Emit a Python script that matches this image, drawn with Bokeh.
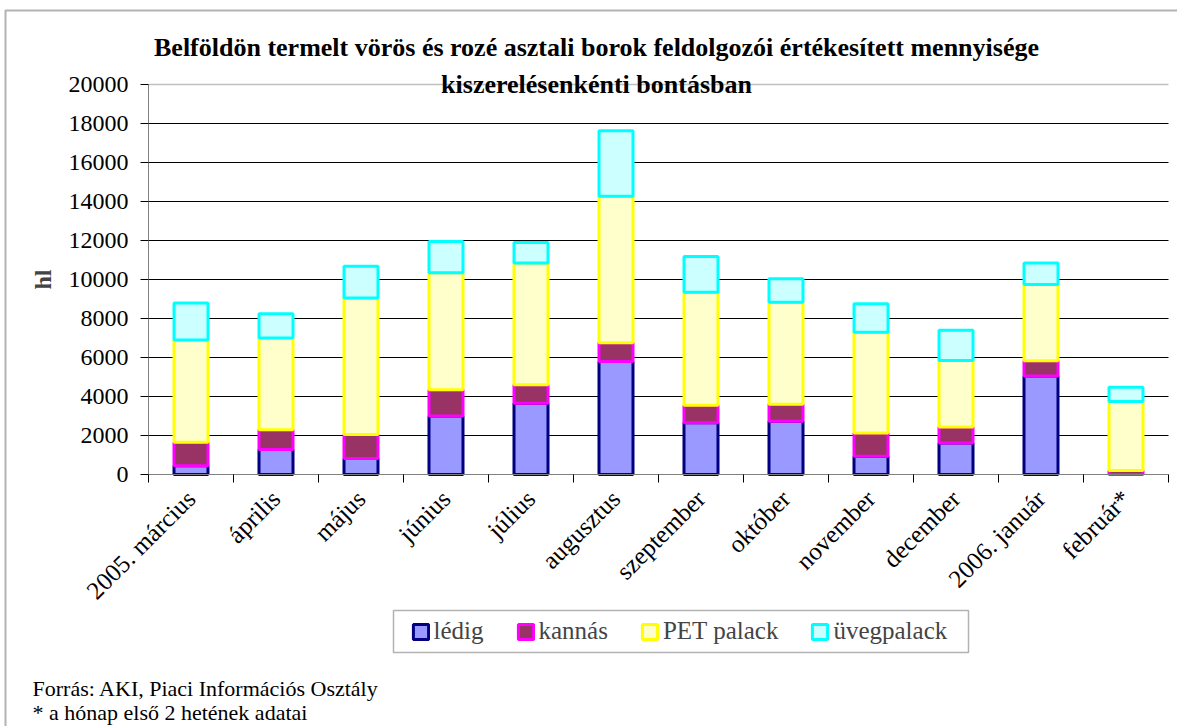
import math
from bokeh.plotting import figure
from bokeh.models import (Range1d, FixedTicker, Legend, LegendItem, Label, LinearAxis,
                          ColumnDataSource, Grid, BoxAnnotation)
from bokeh.embed import file_html
from bokeh.resources import INLINE

# ---------------- data ----------------
months = ["2005. március", "április", "május", "június", "július", "augusztus",
          "szeptember", "október", "november", "december", "2006. január", "február*"]
ledig = [450, 1280, 820, 3000, 3650, 5800, 2650, 2730, 940, 1620, 5050, 0]
kannas = [1200, 1020, 1230, 1350, 950, 960, 900, 870, 1190, 820, 780, 200]
pet_palack = [5250, 4700, 7000, 6000, 6250, 7510, 5800, 5230, 5160, 3410, 3910, 3540]
uvegpalack = [1900, 1250, 1630, 1600, 1050, 3360, 1830, 1210, 1470, 1550, 1110, 730]
series_names = ["lédig", "kannás", "PET palack", "üvegpalack"]
y_ticks = [0, 2000, 4000, 6000, 8000, 10000, 12000, 14000, 16000, 18000, 20000]
y_label = "hl"
title_lines = ["Belföldön termelt vörös és rozé asztali borok feldolgozói értékesített mennyisége",
               "kiszerelésenkénti bontásban"]
footnotes = ["Forrás: AKI, Piaci Információs Osztály",
             "* a hónap első 2 hetének adatai"]

# ---------------- styles / layout ----------------
fills = ["#9999FF", "#993366", "#FFFFCC", "#CCFFFF"]
lines = ["#000080", "#FF00FF", "#FFFF00", "#00FFFF"]
FONT = "Liberation Serif, Times New Roman, serif"

W, H = 1177, 726
PL, PR, PT, PB = 148, 1168, 84, 474     # plot area in page px
YMAX = 20000
N = len(months)


def xd(px):   # page px -> data x
    return (px - PL) * N / (PR - PL)


def yd(px):   # page px -> data y
    return (PB - px) * YMAX / (PB - PT)


src = ColumnDataSource(dict(
    x=[i + 0.5 for i in range(N)],
    ledig=ledig, kannas=kannas, pet=pet_palack, uveg=uvegpalack,
))

p = figure(width=W, height=H, x_range=Range1d(xd(0), xd(W)), y_range=Range1d(yd(H), yd(0)),
           output_backend="svg", toolbar_location=None,
           x_axis_location=None, y_axis_location=None, min_border=0)
p.outline_line_color = None
p.background_fill_color = "white"
p.border_fill_color = "white"
p.xgrid.visible = False
p.ygrid.visible = False

# gridlines (only across the plot area)
grid_ticks = y_ticks[1:-1]
if "cross_bounds" in Grid.properties():
    g = Grid(dimension=1, ticker=FixedTicker(ticks=grid_ticks), grid_line_color="black",
             grid_line_width=1)
    g.cross_bounds = (0, N)
    p.add_layout(g)
    g2 = Grid(dimension=1, ticker=FixedTicker(ticks=[y_ticks[-1]]), grid_line_color="#C0C0C0",
              grid_line_width=1.5)
    g2.cross_bounds = (0, N)
    p.add_layout(g2)
else:
    p.segment(x0=0, x1=N, y0=grid_ticks, y1=grid_ticks, line_color="black", line_width=1)
    p.segment(x0=0, x1=N, y0=y_ticks[-1], y1=y_ticks[-1], line_color="#C0C0C0", line_width=1.5)

rs = p.vbar_stack(["ledig", "kannas", "pet", "uveg"], x="x", width=0.4, source=src,
                  fill_color=fills, line_color=lines, line_width=3)

# y axis
yax = LinearAxis(fixed_location=0, bounds=(0, YMAX), ticker=FixedTicker(ticks=y_ticks))
yax.major_label_overrides = {t: str(t) for t in y_ticks}
yax.major_label_text_font = FONT
yax.major_label_text_font_size = "24px"
yax.major_label_text_color = "black"
yax.major_tick_out = 8
yax.major_tick_in = 0
yax.minor_tick_out = 0
yax.minor_tick_in = 0
yax.major_label_standoff = 12
yax.axis_line_color = "#808080"
yax.major_tick_line_color = "black"
yax.axis_label = y_label
yax.axis_label_text_font = FONT
yax.axis_label_text_font_style = "bold"
yax.axis_label_text_font_size = "24px"
yax.axis_label_standoff = 10
p.add_layout(yax, "left")

# x axis (ticks at category boundaries, labels at centres)
xax = LinearAxis(fixed_location=0, bounds=(0, N),
                 ticker=FixedTicker(ticks=[i + 0.5 for i in range(N)],
                                    minor_ticks=list(range(N + 1))))
xax.major_label_overrides = {i + 0.5: m for i, m in enumerate(months)}
xax.major_label_orientation = math.pi / 4
xax.major_label_text_font = FONT
xax.major_label_text_font_size = "25px"
xax.major_label_text_color = "black"
xax.major_tick_out = 0
xax.major_tick_in = 0
xax.minor_tick_out = 8
xax.minor_tick_in = 0
xax.minor_tick_line_color = "black"
xax.major_label_standoff = 12
xax.axis_line_color = "#808080"
p.add_layout(xax, "below")

# outer chart border (top and left edges are visible in the reference)
p.add_layout(BoxAnnotation(left=xd(5), top=yd(10), right=xd(W + 50), bottom=yd(H + 50),
                           fill_color=None, fill_alpha=0, line_color="black", line_width=2))

# title (overlapping the plot area, as in the reference)
for txt, base in zip(title_lines, [47, 83.5]):
    p.add_layout(Label(x=xd(596), y=yd(base), text=txt, text_font=FONT,
                       text_font_style="bold", text_font_size="26px",
                       text_align="center", text_baseline="alphabetic",
                       text_color="black"))

for txt, base in zip(footnotes, [688, 711.5]):
    p.add_layout(Label(x=xd(32), y=yd(base), text=txt, text_font=FONT,
                       text_font_size="22px", text_align="left",
                       text_baseline="alphabetic", text_color="black"))

# legend frame + legend items
p.add_layout(BoxAnnotation(left=xd(393), right=xd(968), top=yd(610), bottom=yd(652),
                           fill_color="white", fill_alpha=1.0,
                           line_color="black", line_width=1.5))
legend = Legend(items=[LegendItem(label=n, renderers=[r]) for n, r in zip(series_names, rs)],
                orientation="horizontal", location=(410.5, H - 645),
                glyph_width=19, glyph_height=19, label_text_font=FONT,
                label_text_font_size="25px", padding=0, spacing=32, label_standoff=4,
                margin=0, border_line_color=None,
                background_fill_color="white", background_fill_alpha=0.0)
p.add_layout(legend)

open("out.html", "w").write(file_html(p, INLINE))
